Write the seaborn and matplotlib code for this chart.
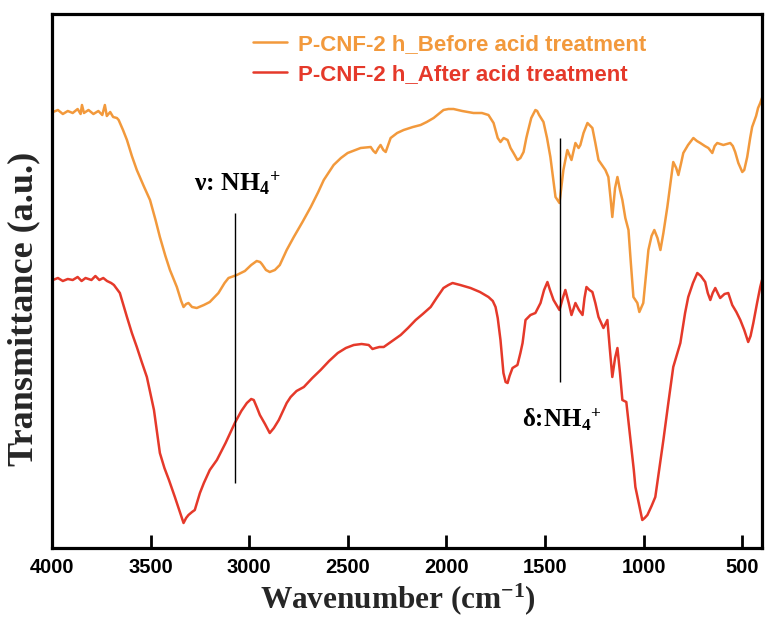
import numpy as np
import pandas as pd
import matplotlib
matplotlib.use("Agg")
import matplotlib.pyplot as plt
import seaborn as sns

# ---------------- data ----------------
series_labels = ["P-CNF-2 h_Before acid treatment", "P-CNF-2 h_After acid treatment"]
series_colors = ["#F2993C", "#E5392A"]

before_wn = [3995, 3970, 3945, 3920, 3895, 3870, 3855, 3848, 3838, 3815, 3790, 3765, 3745, 3732, 3722,
             3705, 3690, 3671, 3662, 3640, 3620, 3595, 3570, 3535, 3503, 3475, 3453, 3425, 3402, 3367,
             3345, 3333, 3320, 3308, 3290, 3266, 3230, 3200, 3156, 3125, 3105, 3063, 3022, 2990, 2962,
             2945, 2936, 2915, 2896, 2870, 2845, 2810, 2774, 2730, 2688, 2650, 2622, 2572, 2535, 2501,
             2435, 2384, 2370, 2359, 2345, 2334, 2320, 2308, 2283, 2250, 2217, 2170, 2131, 2100, 2065,
             2040, 2015, 1990, 1964, 1920, 1863, 1820, 1787, 1761, 1740, 1726, 1710, 1690, 1675, 1660,
             1640, 1625, 1609, 1595, 1589, 1570, 1549, 1540, 1530, 1508, 1490, 1473, 1447, 1427, 1407,
             1387, 1366, 1346, 1330, 1321, 1305, 1285, 1260, 1245, 1229, 1194, 1179, 1168, 1159, 1145,
             1133, 1120, 1108, 1093, 1077, 1065, 1052, 1032, 1022, 1002, 990, 976, 960, 946, 930,
             915, 900, 880, 850, 835, 824, 810, 799, 775, 748, 730, 713, 690, 672, 652,
             640, 627, 596, 561, 548, 536, 520, 500, 490, 475, 460, 450, 430, 420, 409, 400]
before_t = [436, 438, 434, 437, 435, 439, 434, 443, 435, 438, 434, 437, 433, 443, 432,
            436, 431, 430, 428, 418, 408, 392, 378, 362, 348, 328, 311, 292, 278, 261,
            247, 241, 244, 245, 241, 240, 243, 246, 255, 265, 270, 273, 277, 283, 287,
            286, 284, 278, 276, 278, 283, 298, 311, 326, 341, 356, 368, 383, 390, 395,
            400, 401, 397, 395, 400, 403, 398, 396, 410, 415, 418, 421, 423, 426, 430,
            434, 438, 439, 439, 437, 435, 435, 433, 425, 410, 406, 410, 408, 400, 395,
            388, 390, 396, 410, 415, 430, 438, 437, 433, 426, 410, 391, 351, 345, 378,
            398, 388, 405, 400, 403, 415, 425, 420, 405, 388, 378, 371, 350, 331, 360,
            371, 358, 348, 330, 318, 285, 251, 245, 236, 245, 270, 298, 312, 318, 310,
            298, 315, 341, 386, 380, 373, 385, 395, 403, 410, 407, 405, 402, 400, 395,
            402, 405, 403, 405, 402, 396, 385, 376, 378, 391, 410, 421, 432, 440, 445, 450]

after_wn = [3995, 3970, 3945, 3920, 3895, 3870, 3850, 3830, 3800, 3780, 3760, 3740, 3721, 3700, 3686,
            3656, 3620, 3595, 3570, 3545, 3519, 3483, 3453, 3430, 3407, 3377, 3350, 3333, 3320, 3308,
            3290, 3276, 3250, 3230, 3200, 3164, 3120, 3073, 3040, 3012, 2990, 2977, 2960, 2946, 2920,
            2896, 2875, 2850, 2810, 2790, 2760, 2723, 2680, 2638, 2595, 2551, 2510, 2470, 2430, 2394,
            2375, 2359, 2340, 2318, 2275, 2232, 2195, 2156, 2120, 2080, 2050, 2015, 1990, 1969, 1930,
            1878, 1830, 1787, 1765, 1751, 1740, 1726, 1711, 1700, 1690, 1680, 1665, 1640, 1625, 1614,
            1599, 1574, 1549, 1523, 1505, 1488, 1475, 1457, 1427, 1410, 1397, 1380, 1366, 1346, 1328,
            1310, 1300, 1290, 1275, 1260, 1245, 1229, 1204, 1184, 1172, 1159, 1145, 1133, 1120, 1108,
            1088, 1067, 1050, 1042, 1025, 1007, 995, 981, 960, 941, 920, 900, 875, 850, 814,
            790, 774, 750, 728, 710, 688, 675, 662, 650, 637, 620, 612, 590, 571, 551,
            530, 510, 490, 470, 458, 444, 425, 409, 400]
after_t = [268, 270, 267, 269, 268, 271, 267, 270, 268, 272, 268, 270, 267, 265, 263,
           255, 231, 215, 201, 186, 171, 138, 95, 80, 68, 51, 35, 25, 30, 33,
           36, 38, 55, 65, 78, 88, 105, 125, 137, 145, 149, 148, 140, 133, 124,
           115, 120, 128, 145, 151, 157, 161, 170, 178, 187, 195, 200, 203, 204, 203,
           199, 200, 201, 201, 207, 213, 220, 228, 234, 241, 250, 260, 263, 265, 263,
           260, 256, 251, 247, 241, 230, 208, 175, 166, 165, 172, 180, 183, 195, 205,
           228, 233, 235, 245, 258, 266, 258, 248, 238, 250, 258, 245, 233, 245, 238,
           233, 250, 261, 258, 256, 245, 231, 220, 228, 200, 171, 190, 200, 175, 148,
           146, 108, 78, 61, 45, 28, 30, 33, 42, 51, 80, 108, 145, 181, 205,
           235, 251, 265, 275, 272, 266, 255, 248, 255, 260, 253, 250, 254, 255, 243,
           236, 228, 218, 206, 212, 225, 245, 261, 268]

x_ticks = [4000, 3500, 3000, 2500, 2000, 1500, 1000, 500]
x_tick_labels = ["4000", "3500", "3000", "2500", "2000", "1500", "1000", "500"]

# annotation markers (wavenumber, lower / upper transmittance) and labels
ann_wn = [3073, 1422]
ann_low = [65, 166]
ann_high = [335, 410]
ann_text = ["\u03bd: NH$_4{}^{+}$", "\u03b4:NH$_4{}^{+}$"]
ann_text_x = [3058, 1417]
ann_text_y = [365, 128]
ann_text_size = [18.5, 18]

# ---------------- styling ----------------
sns.set_style("ticks")
plt.rcParams["font.family"] = ["Liberation Sans", "DejaVu Sans"]
plt.rcParams["mathtext.fontset"] = "custom"
plt.rcParams["mathtext.rm"] = "Liberation Serif:bold"
plt.rcParams["mathtext.it"] = "Liberation Serif:bold"
plt.rcParams["mathtext.bf"] = "Liberation Serif:bold"
plt.rcParams["mathtext.default"] = "rm"

df = pd.concat([
    pd.DataFrame({"wn": before_wn, "T": before_t, "sample": series_labels[0]}),
    pd.DataFrame({"wn": after_wn, "T": after_t, "sample": series_labels[1]}),
], ignore_index=True)

fig = plt.figure(figsize=(7.66, 6.18), dpi=100)
ax = fig.add_axes([52 / 766, 1 - 548 / 618, 710 / 766, 534 / 618])

sns.lineplot(data=df, x="wn", y="T", hue="sample", hue_order=series_labels,
             palette=dict(zip(series_labels, series_colors)), estimator=None,
             sort=False, linewidth=1.8, ax=ax)

ax.vlines(ann_wn, ann_low, ann_high, colors="black", linewidth=1.0)
for tx, ty, s, fs in zip(ann_text_x, ann_text_y, ann_text, ann_text_size):
    ax.text(tx, ty, s, ha="center", va="center", fontsize=fs,
            family="Liberation Serif", fontweight="bold", color="black")

ax.set_xlim(4000, 400)
ax.set_ylim(0, 534)
ax.set_xticks(x_ticks)
ax.set_xticklabels(x_tick_labels, fontsize=14.5, fontweight="bold")
ax.set_yticks([])
ax.tick_params(axis="x", direction="in", length=9.5, width=2.0, pad=7, colors="black")
for sp in ax.spines.values():
    sp.set_visible(True)
    sp.set_linewidth(2.3)
    sp.set_color("black")

ax.set_xlabel("Wavenumber (cm$^{-1}$)", family="Liberation Serif", fontweight="bold",
              fontsize=22.5)
ax.xaxis.set_label_coords(0.487, -0.062)
ax.set_ylabel("Transmittance (a.u.)", family="Liberation Serif", fontweight="bold",
              fontsize=26)
ax.yaxis.set_label_coords(-0.016, 0.448)

handles, labels = ax.get_legend_handles_labels()
ax.legend(handles, labels, loc="upper center", bbox_to_anchor=(0.56, 1.0), frameon=False,
          prop={"family": "Liberation Sans", "weight": "bold", "size": 16},
          labelcolor="linecolor", handlelength=1.5, handletextpad=0.5, labelspacing=0.4)

fig.savefig("out.png", dpi=100)
